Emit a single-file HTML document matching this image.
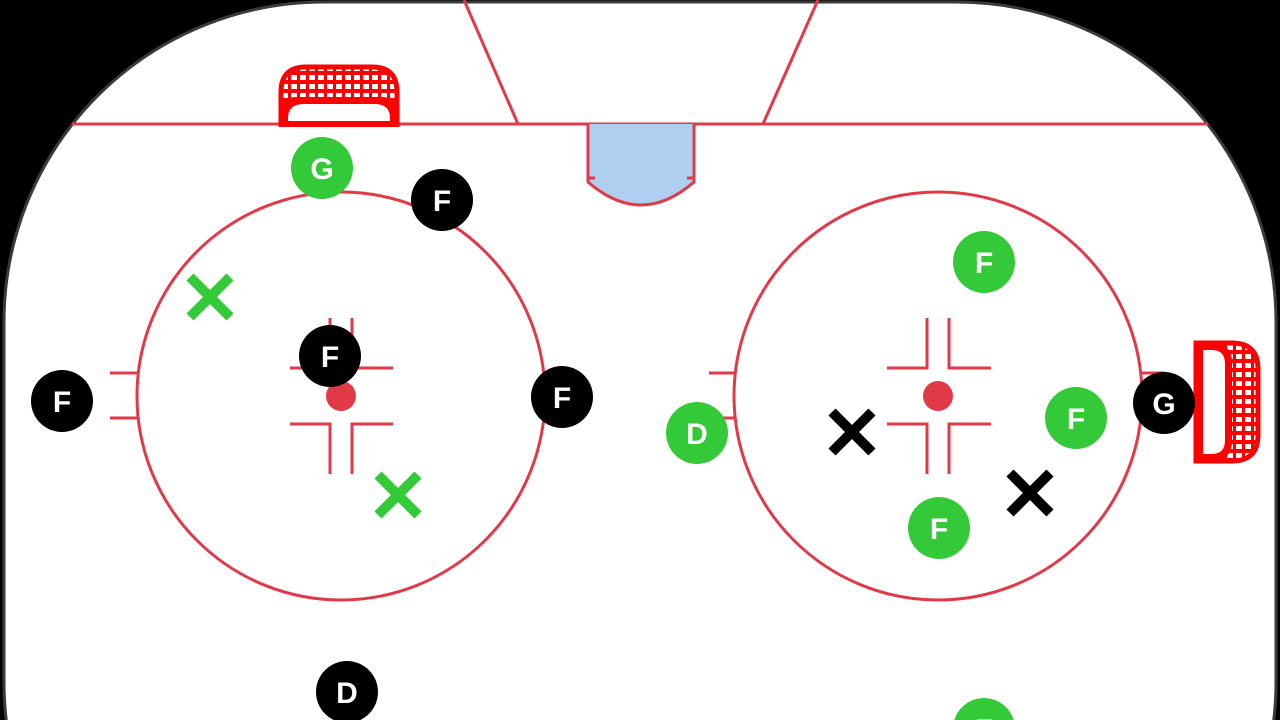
<!DOCTYPE html>
<html><head><style>html,body{margin:0;padding:0;background:#000;width:1280px;height:720px;overflow:hidden}svg{display:block}</style></head><body>
<svg width="1280" height="720" viewBox="0 0 1280 720" xmlns="http://www.w3.org/2000/svg" font-family="Liberation Sans, sans-serif">
<defs>
<pattern id="net" x="0" y="0" width="9" height="9" patternUnits="userSpaceOnUse"><rect width="9" height="9" fill="#f00"/><rect x="3" y="3" width="6" height="5" fill="#fff"/></pattern>
</defs>
<rect x="4" y="2" width="1272" height="1000" rx="320" ry="320" fill="#fff" stroke="#3a3a3a" stroke-width="3"/>
<g stroke="#e03a48" stroke-width="3" fill="none">
<line x1="72" y1="124" x2="1208" y2="124"/>
<line x1="464" y1="0" x2="518" y2="124"/>
<line x1="818" y1="0" x2="763" y2="124"/>
<path d="M588 124 V182 Q641 228 694 182 V124" fill="#aecff0"/>
<line x1="588" y1="178" x2="595" y2="178"/><line x1="694" y1="178" x2="687" y2="178"/>
<circle cx="341" cy="396" r="204"/>
<circle cx="938" cy="396" r="204"/>
<path d="M110 373H137M110 418H137M709 373H734M709 418H734M1142 373H1165"/>
<path d="M330 318V368H290M352 318V368H393M330 474V424H290M352 474V424H393"/>
<path d="M927 318V368H887M949 318V368H991M927 474V424H887M949 474V424H991"/>
</g>
<circle cx="341" cy="396" r="15" fill="#e03a48"/>
<circle cx="938" cy="396" r="15" fill="#e03a48"/>
<!-- top net -->
<path d="M281 127V92Q281 67 306 67H372Q397 67 397 92V127Z" fill="url(#net)"/>
<path d="M281 127V92Q281 67 306 67H372Q397 67 397 92V127" fill="none" stroke="#f00" stroke-width="5"/>
<path d="M281 127V112Q281 97 296 97H382Q397 97 397 112V127Z" fill="#f00"/>
<path d="M288 124V118Q288 104 304 104H374Q390 104 390 118V124Z" fill="#fff"/>
<rect x="281" y="121" width="116" height="6" fill="#f00"/>
<!-- right net -->
<path d="M1196 343H1232Q1258 343 1258 369V435Q1258 461 1232 461H1196Z" fill="url(#net)"/>
<path d="M1196 343H1232Q1258 343 1258 369V435Q1258 461 1232 461H1196Z" fill="none" stroke="#f00" stroke-width="5"/>
<path d="M1196 343H1212Q1232 343 1232 363V441Q1232 461 1212 461H1196Z" fill="#f00"/>
<path d="M1203 350H1212Q1225 350 1225 364V440Q1225 454 1212 454H1203Z" fill="#fff"/>
<g font-weight="bold" font-size="30" text-anchor="middle" fill="#fff">
<g fill="#34c938"><circle cx="322" cy="168" r="31"/><circle cx="984" cy="262" r="31"/><circle cx="697" cy="433" r="31"/><circle cx="1076" cy="418" r="31"/><circle cx="939" cy="528" r="31"/><circle cx="984" cy="729" r="31"/></g>
<g fill="#000"><circle cx="442" cy="200" r="31"/><circle cx="330" cy="356" r="31"/><circle cx="62" cy="401" r="31"/><circle cx="562" cy="397" r="31"/><circle cx="347" cy="692" r="31"/><circle cx="1164" cy="403" r="31"/></g>
<text x="322" y="179">G</text><text x="984" y="273">F</text><text x="697" y="444">D</text><text x="1076" y="429">F</text><text x="939" y="539">F</text><text x="984" y="740">F</text>
<text x="442" y="211">F</text><text x="330" y="367">F</text><text x="62" y="412">F</text><text x="562" y="408">F</text><text x="347" y="703">D</text><text x="1164" y="414">G</text>
</g>
<g stroke-width="10" stroke-linecap="butt">
<path d="M190 277L230 317M230 277L190 317M378 475L418 515M418 475L378 515" stroke="#34c938"/>
<path d="M832 412L872 452M872 412L832 452M1010 473L1050 513M1050 473L1010 513" stroke="#000"/>
</g>
</svg>
</body></html>
